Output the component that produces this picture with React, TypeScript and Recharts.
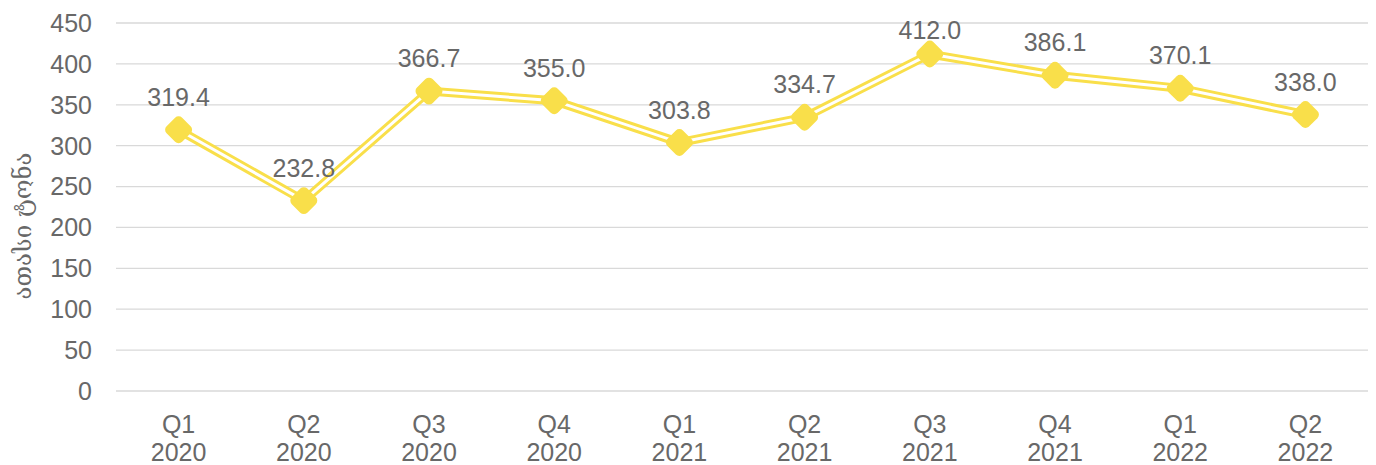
import React from 'react';
import { LineChart, Line, XAxis, YAxis, CartesianGrid } from 'recharts';

const quarters = ['Q1', 'Q2', 'Q3', 'Q4', 'Q1', 'Q2', 'Q3', 'Q4', 'Q1', 'Q2'];
const years = ['2020', '2020', '2020', '2020', '2021', '2021', '2021', '2021', '2022', '2022'];
const tonnes = [319.4, 232.8, 366.7, 355.0, 303.8, 334.7, 412.0, 386.1, 370.1, 338.0];
const yTicks = [0, 50, 100, 150, 200, 250, 300, 350, 400, 450];
const yLabel = 'ათასი ტონა';

const data = tonnes.map((v, i) => ({ name: `${quarters[i]} ${years[i]}`, q: quarters[i], y: years[i], value: v }));

const FONT = '"Liberation Sans", Arial, "DejaVu Sans", sans-serif';
const TEXT = '#686868';
const YELLOW = '#F9DF4A';

const QuarterTick = ({ x, y, payload }: any) => {
  const d = data[payload.index];
  return (
    <g transform={`translate(${x},${y})`}>
      <text x={0} y={0} textAnchor="middle" fill={TEXT} fontSize={25} fontFamily={FONT}>
        <tspan x={0} dy={34}>{d?.q}</tspan>
        <tspan x={0} dy={28}>{d?.y}</tspan>
      </text>
    </g>
  );
};

const Diamond = ({ cx, cy }: any) => {
  if (cx == null || cy == null) return null;
  const s = 22;
  return (
    <rect
      x={cx - s / 2}
      y={cy - s / 2}
      width={s}
      height={s}
      rx={5}
      ry={5}
      fill={YELLOW}
      transform={`rotate(45 ${cx} ${cy})`}
    />
  );
};

// label sits above the point, kept inside the top of the plot
const ValueLabel = ({ x, y, value }: any) => (
  <text x={x} y={Math.max(y - 24, 39)} textAnchor="middle" fill={TEXT} fontSize={25} fontFamily={FONT}>
    {Number(value).toFixed(1)}
  </text>
);

const AxisTitle = () => (
  <text
    x={0}
    y={0}
    transform="translate(31,226) rotate(-90)"
    textAnchor="middle"
    fill={TEXT}
    fontSize={24}
    fontFamily='"DejaVu Serif", "DejaVu Sans", serif'
  >
    {yLabel}
  </text>
);

export default function App() {
  return (
    <div style={{ position: 'absolute', left: 0, top: 0, background: '#fff' }}>
      <LineChart width={1376} height={465} data={data} margin={{ top: 23, right: 8, left: 0, bottom: 0 }}>
        <CartesianGrid vertical={false} stroke="#D9D9D9" strokeWidth={1.3} />
        <XAxis
          dataKey="name"
          axisLine={false}
          tickLine={false}
          height={74}
          interval={0}
          padding={{ left: 62.6, right: 62.6 }}
          tick={<QuarterTick />}
        />
        <YAxis
          domain={[0, 450]}
          ticks={yTicks}
          axisLine={false}
          tickLine={false}
          tickSize={0}
          tickMargin={24}
          width={116}
          tick={{ fill: TEXT, fontSize: 25, fontFamily: FONT }}
          label={<AxisTitle />}
        />
        <Line
          type="linear"
          dataKey="value"
          stroke={YELLOW}
          strokeWidth={9}
          dot={false}
          activeDot={false}
          isAnimationActive={false}
        />
        <Line
          type="linear"
          dataKey="value"
          stroke="#FFFFFF"
          strokeWidth={3}
          dot={<Diamond />}
          activeDot={false}
          label={<ValueLabel />}
          isAnimationActive={false}
        />
      </LineChart>
    </div>
  );
}
